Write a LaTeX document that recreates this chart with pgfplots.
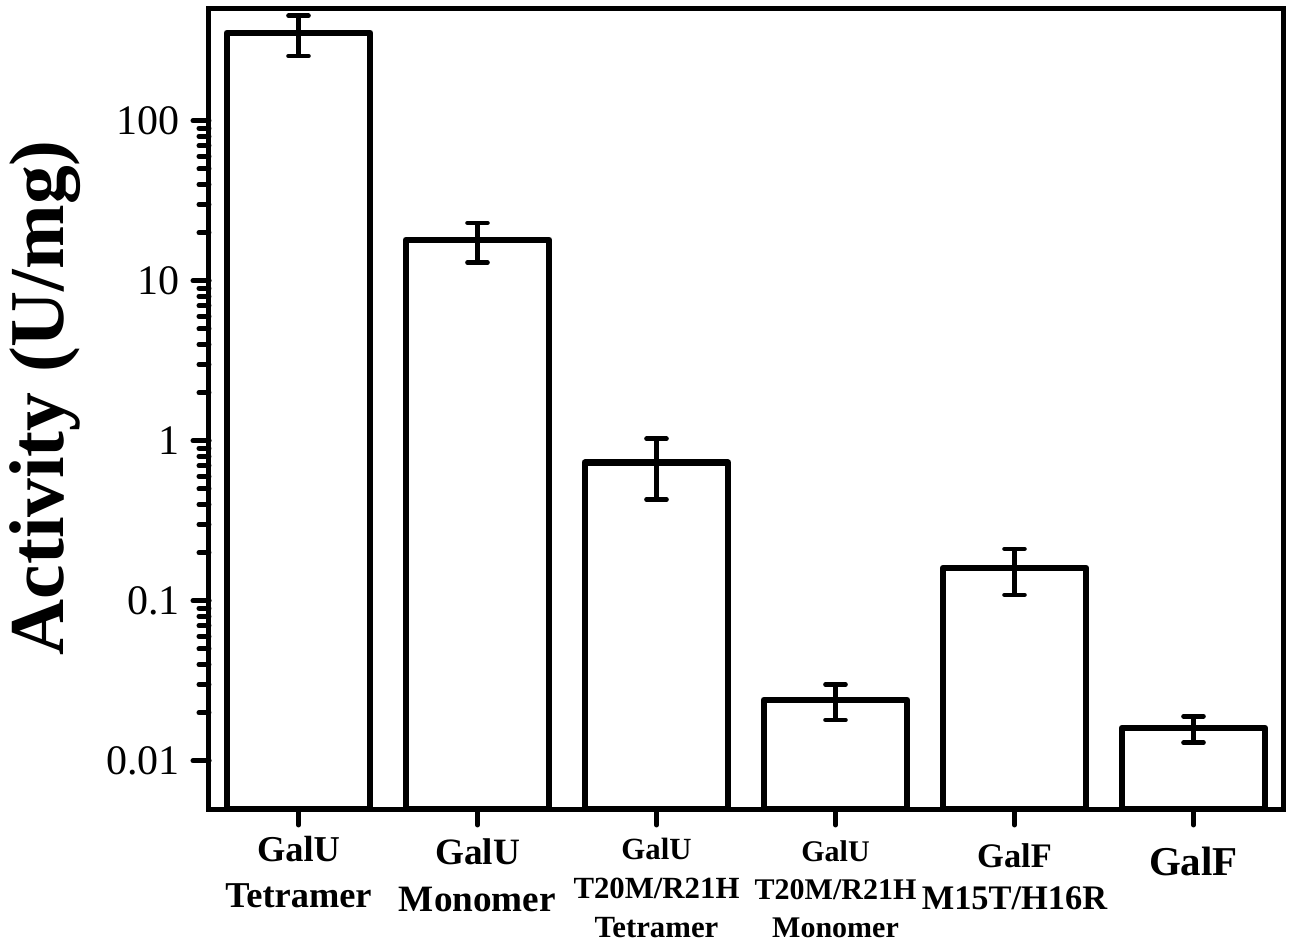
\documentclass[border=0pt]{standalone}
\usepackage{pgfplots}
\pgfplotsset{compat=1.18}
\usepackage{fontspec}
\setmainfont{Liberation Serif}
\begin{document}
\begin{tikzpicture}
\begin{axis}[
  at={(0,0)}, anchor=south west,
  scale only axis, width=537pt, height=400pt,
  ymode=log, ymin=0.005, ymax=500, log origin=infty,
  xmin=-0.5, xmax=5.5,
  xtick={0,1,2,3,4,5},
  xticklabels={
    {\raisebox{-1pt}{\fontsize{18.2}{23}\selectfont\bfseries\begin{tabular}[t]{@{}c@{}}GalU\\Tetramer\end{tabular}}},
    {\raisebox{-2.5pt}{\fontsize{18.6}{23.5}\selectfont\bfseries\begin{tabular}[t]{@{}c@{}}GalU\\Monomer\end{tabular}}},
    {\raisebox{0pt}{\fontsize{15.4}{19.3}\selectfont\bfseries\begin{tabular}[t]{@{}c@{}}GalU\\T20M/R21H\\Tetramer\end{tabular}}},
    {\raisebox{-1pt}{\fontsize{15}{19}\selectfont\bfseries\begin{tabular}[t]{@{}c@{}}GalU\\T20M/R21H\\Monomer\end{tabular}}},
    {\raisebox{-4pt}{\fontsize{17.2}{21}\selectfont\bfseries\begin{tabular}[t]{@{}c@{}}GalF\\M15T/H16R\end{tabular}}},
    {\raisebox{-8pt}{\fontsize{20.5}{25}\selectfont\bfseries\begin{tabular}[t]{@{}c@{}}GalF\end{tabular}}}
  },
  ytick={0.01,0.1,1,10,100},
  yticklabels={0.01,0.1,1,10,100},
  tick align=outside, xtick pos=lower, ytick pos=left,
  major tick length=8pt, minor tick length=5pt,
  every tick/.style={black, line width=2.5pt, line cap=round},
  major tick style={black, line width=2.5pt, line cap=round},
  minor tick style={black, line width=2.5pt, line cap=round},
  axis line style={line width=2.5pt},
  /pgf/number format/assume math mode=true,
  yticklabel style={font=\fontsize{21}{25}\selectfont, anchor=east, inner sep=0pt, xshift=-6.5pt},
  xticklabel style={anchor=base, inner sep=0pt, yshift=-17.5pt},
  ylabel={Activity (U/mg)},
  ylabel style={font=\fontsize{38.8}{46}\selectfont\bfseries, at={(axis description cs:-0.153,0.514)}, anchor=center},
]
\addplot[ybar, bar width=0.8, fill=white, draw=black, line width=3.3pt, line join=round,
  error bars/.cd, y dir=both, y explicit,
  error bar style={line width=2.3pt, black},
  error mark options={rotate=90, mark size=5pt, line width=2.3pt, line cap=round, black}]
coordinates {
  (0,354) +- (0,100)
  (1,18) +- (0,5)
  (2,0.73) +- (0,0.30)
  (3,0.024) +- (0,0.006)
  (4,0.16) +- (0,0.051)
  (5,0.016) +- (0,0.003)
};
\end{axis}
\path[use as bounding box] (-104.5pt,-68.5pt) rectangle (542pt,404.5pt);
\end{tikzpicture}
\end{document}
